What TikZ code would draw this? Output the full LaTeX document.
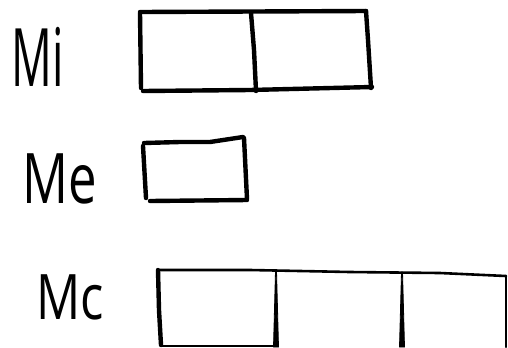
\documentclass[tikz,border=0pt]{standalone}
\usepackage{fontspec}
\setmainfont{Open Sans}
\tikzset{
  pen/.style={line width=4.4bp, line cap=round, line join=round, black},
  thinpen/.style={line width=2.6bp, line cap=round, line join=round, black},
  wedge/.style={fill=black, draw=black, line width=0.8bp, line join=round},
  lbl/.style={inner sep=0pt, anchor=center}
}
\begin{document}
\begin{tikzpicture}[x=1bp,y=-1bp]
\useasboundingbox (0,0) rectangle (508,347);
% labels
\node[lbl] (mi) at (38,57) {\scalebox{0.56}[1]{\fontsize{81}{81}\selectfont Mi}};
\node[lbl] (me) at (60,179) {\scalebox{0.73}[1]{\fontsize{70}{70}\selectfont Me}};
\node[lbl] (mc) at (70,297) {\scalebox{0.78}[1]{\fontsize{63}{63}\selectfont Mc}};
% Mi box
\draw[pen] (140,12) -- (366,11);
\draw[pen] (366,11) -- (368,40) -- (371,88);
\draw[pen] (143,91) -- (250,90) -- (372,87);
\draw[pen] (140,13) -- (141,88);
\draw[pen] (251,13) -- (254,50) -- (256,91);
% Me box
\draw[pen] (144,143) -- (180,142) -- (210,142) -- (243,137);
\draw[pen] (244,138) -- (247,199);
\draw[pen] (150,201) -- (247,200);
\draw[pen] (143,146) -- (146,198);
% Mc box
\draw[thinpen] (160,270) -- (250,270) -- (350,272) -- (440,273) -- (506,276);
\draw[pen] (158,270) -- (159,310) -- (161,345);
\draw[thinpen] (162,346) -- (275,346);
\draw[wedge] (275.5,271) -- (276.5,271) -- (278.5,347) -- (273.5,347) -- cycle;
\draw[wedge] (401.5,272) -- (402.5,272) -- (404.5,347) -- (399.5,347) -- cycle;
\draw[thinpen] (506,276) -- (506,347);
\end{tikzpicture}
\end{document}
